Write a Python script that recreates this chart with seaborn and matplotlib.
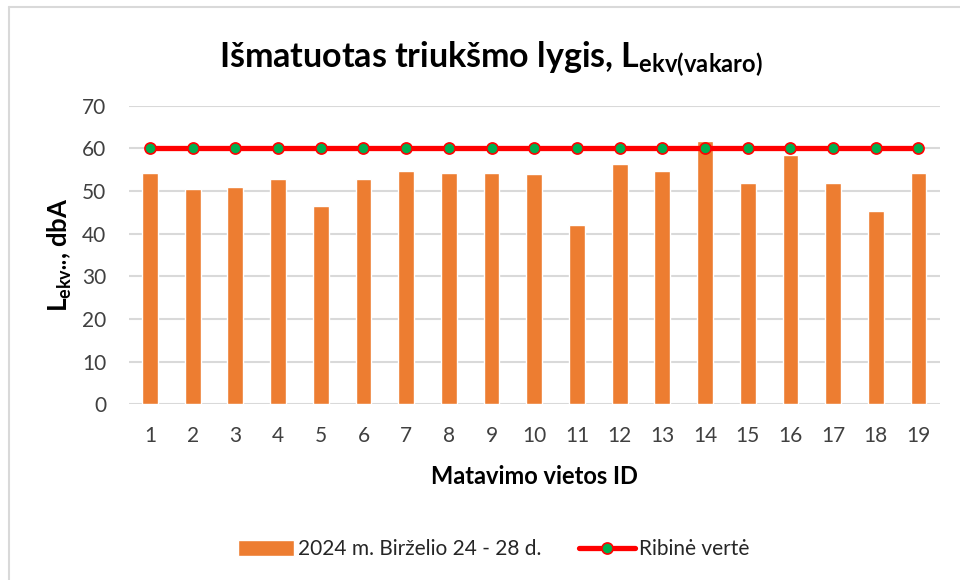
import matplotlib
matplotlib.use("Agg")
import matplotlib.pyplot as plt
import seaborn as sns
import pandas as pd
from matplotlib.lines import Line2D

sites = [str(i) for i in range(1, 20)]
measured = [54.2, 50.4, 50.9, 52.7, 46.4, 52.7, 54.6, 54.2, 54.2, 53.9,
            41.9, 56.3, 54.6, 61.7, 51.8, 58.4, 51.8, 45.2, 54.2]
limit = [60] * 19
bar_label = "2024 m. Birželio 24 - 28 d."
line_label = "Ribinė vertė"
yticks = [0, 10, 20, 30, 40, 50, 60, 70]

sns.set_theme(style="white")
plt.rcParams['font.family'] = ['Lato', 'DejaVu Sans']

df = pd.DataFrame({"site": sites, "measured": measured, "limit": limit})

fig = plt.figure(figsize=(9.6, 5.8), dpi=100)
ax = fig.add_axes([0.134, 0.303, 0.845, 0.515])

sns.barplot(data=df, x="site", y="measured", color="#ED7D31", width=0.37,
            saturation=1, ax=ax, label=bar_label, zorder=2)
ax.plot(range(len(sites)), limit, color="#FF0000", lw=3.8, marker="o",
        markersize=8, markerfacecolor="#00B050", markeredgecolor="#FF0000",
        markeredgewidth=1.2, label=line_label, zorder=3)

ax.set_ylim(0, 70)
ax.set_xlim(-0.5, len(sites) - 0.5)
ax.set_yticks(yticks)
ax.yaxis.grid(True, color="#D9D9D9", lw=1.5)
ax.set_axisbelow(True)
for s in ax.spines.values():
    s.set_visible(False)
ax.tick_params(axis="both", length=0, labelsize=15, colors="#404040")
ax.tick_params(axis="y", pad=16)
ax.tick_params(axis="x", pad=16)

ax.set_xlabel("Matavimo vietos ID", fontsize=17, fontweight="bold", color="black", labelpad=13)
ax.set_ylabel(r"L$_\mathregular{ekv··}$, dbA", fontsize=18.5, fontweight="bold", color="black", labelpad=6)

fig.text(0.511, 0.883, r"Išmatuotas triukšmo lygis, L$_\mathregular{ekv(vakaro)}$",
         ha="center", va="baseline", fontsize=24.5, fontweight="bold", color="black")

handles, labels = ax.get_legend_handles_labels()
order = [labels.index(bar_label), labels.index(line_label)]
leg = ax.legend([handles[i] for i in order], [labels[i] for i in order],
                loc="center", bbox_to_anchor=(0.45, -0.485), ncol=2, frameon=False,
                fontsize=15, handlelength=2.7, handleheight=0.8, columnspacing=1.8,
                handletextpad=0.2)
for t in leg.get_texts():
    t.set_color("#262626")

fig.add_artist(Line2D([0.0094, 0.0094], [0, 0.988], color="#D9D9D9", lw=1.5))
fig.add_artist(Line2D([0.0094, 1.0], [0.988, 0.988], color="#D9D9D9", lw=1.5))

fig.savefig("out.png", dpi=100)
